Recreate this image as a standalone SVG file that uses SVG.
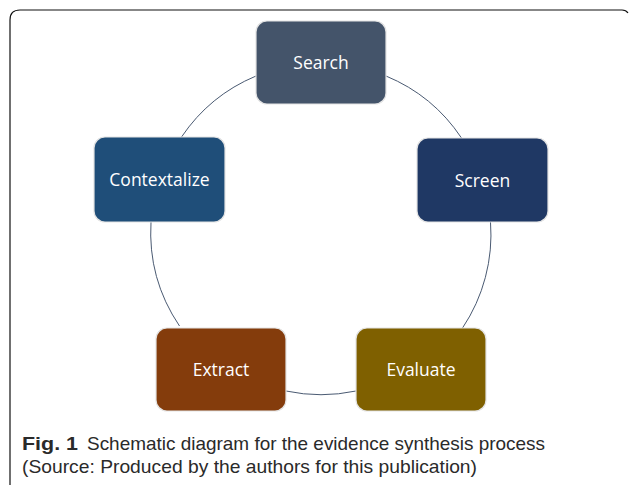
<svg xmlns="http://www.w3.org/2000/svg" width="629" height="485" viewBox="0 0 629 485">
<style>
.box{stroke:#e3e3e3;stroke-width:1.2}
.lbl{fill:#ffffff;font-family:"Open Sans","Noto Sans",sans-serif;font-size:17.5px;text-anchor:middle;dominant-baseline:central}
.arc{fill:none;stroke:#4a5a72;stroke-width:1}
.cap{font-family:"Liberation Sans",Arial,sans-serif;font-size:19px;fill:#2a2a2a}
</style>
<rect width="629" height="485" fill="#ffffff"/>
<path d="M10,492 L10,20 Q10,10 20,10 L622,10 Q626,10 628,13" fill="none" stroke="#111" stroke-width="1.2"/>
<g id="connectors">
<path class="arc" d="M386,76 A168,168 0 0 1 461.5,138"/>
<path class="arc" d="M490.5,222 A168,168 0 0 1 462.5,328"/>
<path class="arc" d="M356,391 A168,168 0 0 1 286,391"/>
<path class="arc" d="M179.5,326 A168,168 0 0 1 151,222"/>
<path class="arc" d="M181.5,137 A168,168 0 0 1 256,76"/>
</g>
<g id="search"><rect class="box" x="256" y="21" width="130" height="83" rx="11" fill="#44546A"/><text class="lbl" x="321" y="62">Search</text></g>
<g id="screen"><rect class="box" x="417" y="138" width="131" height="84" rx="11" fill="#1F3864"/><text class="lbl" x="482.5" y="179.5">Screen</text></g>
<g id="evaluate"><rect class="box" x="356" y="328" width="130" height="83" rx="11" fill="#7F6000"/><text class="lbl" x="421" y="369">Evaluate</text></g>
<g id="extract"><rect class="box" x="156" y="328" width="130" height="83" rx="11" fill="#843C0C"/><text class="lbl" x="221" y="369">Extract</text></g>
<g id="contextalize"><rect class="box" x="94" y="137" width="131" height="85" rx="11" fill="#1F4E79"/><text class="lbl" x="159.5" y="179">Contextalize</text></g>
<g id="caption">
<text class="cap" x="22" y="450"><tspan font-weight="bold" textLength="56" lengthAdjust="spacingAndGlyphs">Fig. 1</tspan></text>
<text class="cap" x="87" y="450" textLength="458" lengthAdjust="spacingAndGlyphs">Schematic diagram for the evidence synthesis process</text>
<text class="cap" x="22" y="473" textLength="455" lengthAdjust="spacingAndGlyphs">(Source: Produced by the authors for this publication)</text>
</g>
</svg>
